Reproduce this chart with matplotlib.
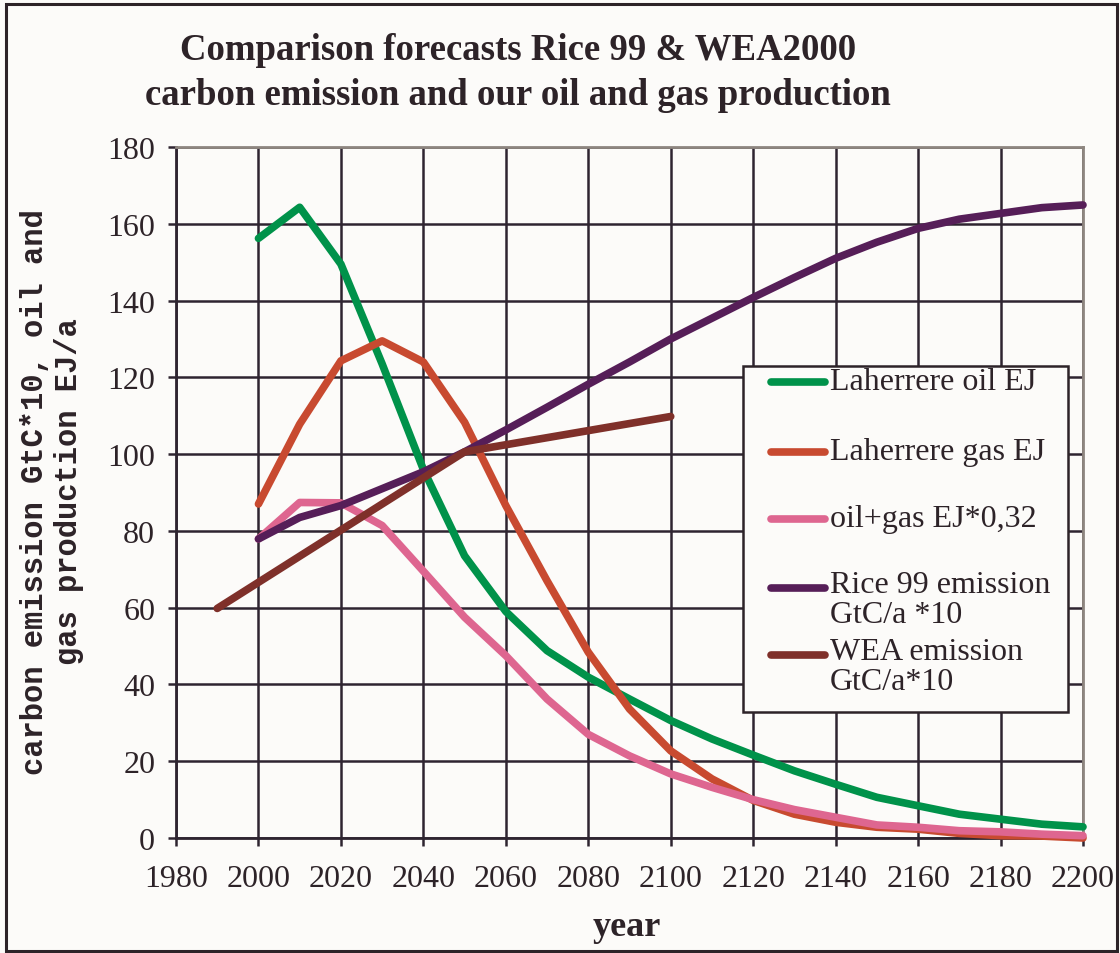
import matplotlib
matplotlib.use("Agg")
import matplotlib.pyplot as plt
from matplotlib.lines import Line2D
from matplotlib.patches import Rectangle

# ---------------- data ----------------
years = list(range(2000, 2201, 10))
oil = [156.2, 164.3, 149.5, 123.5, 96.0, 73.5, 59.0, 48.8, 41.9, 36.2, 30.6,
       25.8, 21.6, 17.5, 14.0, 10.6, 8.4, 6.2, 4.9, 3.6, 2.9]
gas = [87.0, 107.8, 124.3, 129.5, 124.0, 108.3, 86.6, 67.0, 48.4, 33.6, 22.7,
       15.4, 9.8, 6.2, 4.1, 2.8, 2.3, 1.2, 0.6, 0.5, 0.0]
oilgas = [77.9, 87.4, 87.3, 81.4, 69.5, 57.5, 47.5, 36.2, 27.0, 21.4, 16.7,
          13.2, 10.0, 7.4, 5.4, 3.4, 2.8, 1.9, 1.6, 1.0, 0.6]
rice = [77.9, 83.5, 86.6, 91.0, 95.4, 100.6, 106.3, 112.2, 118.2, 124.0, 130.0,
        135.4, 140.8, 146.0, 151.0, 155.2, 158.8, 161.2, 162.7, 164.2, 164.9]
wea_years = [1990, 2050, 2100]
wea = [59.8, 100.6, 109.8]

labels = ["Laherrere oil EJ", "Laherrere gas EJ", "oil+gas EJ*0,32",
          "Rice 99 emission\nGtC/a *10", "WEA emission\nGtC/a*10"]
colors = ["#00924a", "#c84a30", "#de6690", "#561e58", "#7f302a"]

xticks = list(range(1980, 2201, 20))
yticks = list(range(0, 181, 20))

title = "Comparison forecasts Rice 99 & WEA2000\ncarbon emission and our oil and gas production"
ylabel = "carbon emission GtC*10, oil and\ngas production EJ/a"
xlabel = "year"

# ---------------- style ----------------
W, H = 1120, 954
BG = "#fcfbf9"
DARK = "#2d2328"
GRID = "#2e2430"
SPINE_GRAY = "#8e8680"
SERIF = "Liberation Serif"

def fx(px):
    return px / W

def fy(py):
    return 1 - py / H

fig = plt.figure(figsize=(W / 100, H / 100), dpi=100, facecolor=BG)
ax = fig.add_axes([fx(176), fy(839), fx(1083) - fx(176), fy(148) - fy(839)])
ax.set_facecolor(BG)
ax.set_xlim(1980, 2200)
ax.set_ylim(0, 180)
ax.set_xticks(xticks)
ax.set_yticks(yticks)

ax.grid(True, color=GRID, linewidth=1.8, zorder=1)
ax.set_axisbelow(True)
for side in ["left", "bottom"]:
    ax.spines[side].set_color(GRID)
    ax.spines[side].set_linewidth(2.0)
for side in ["top", "right"]:
    ax.spines[side].set_color(SPINE_GRAY)
    ax.spines[side].set_linewidth(2.0)

ax.tick_params(axis="both", direction="out", length=6, width=1.8, color=GRID,
               labelsize=23, labelcolor=DARK)
ax.tick_params(axis="y", pad=9)
ax.tick_params(axis="x", pad=13)
for lab in ax.get_xticklabels() + ax.get_yticklabels():
    lab.set_fontfamily(SERIF)

lw = 5.5
series = [(years, oil), (years, gas), (years, oilgas), (years, rice), (wea_years, wea)]
for (xs, ys), c in zip(series, colors):
    ax.plot(xs, ys, color=c, linewidth=lw, solid_capstyle="round",
            solid_joinstyle="round", clip_on=False, zorder=3)

# title
fig.text(fx(518), fy(73), title, ha="center", va="center", fontsize=26.5,
         fontweight="bold", fontfamily=SERIF, color=DARK, linespacing=1.38)

# y label
fig.text(fx(52), fy(492), ylabel, rotation=90, ha="center", va="center",
         fontsize=22, fontweight="bold", fontfamily="Liberation Mono",
         color=DARK, linespacing=1.2, multialignment="center")

# x label
fig.text(fx(627), fy(928), xlabel, ha="center", va="center", fontsize=26,
         fontweight="bold", fontfamily=SERIF, color=DARK)

# legend (manual so handles align with the first text line)
fig.add_artist(Rectangle((fx(743), fy(713)), fx(1068) - fx(743), fy(367) - fy(713),
                         transform=fig.transFigure, facecolor=BG, edgecolor=DARK,
                         linewidth=1.8, zorder=5))
entry_y = [383, 453, 520, 589, 656]
for lab, c, py in zip(labels, colors, entry_y):
    fig.add_artist(Line2D([fx(771), fx(825)], [fy(py), fy(py)], transform=fig.transFigure,
                          color=c, linewidth=lw, solid_capstyle="round", zorder=6))
    if "\n" in lab:
        fig.text(fx(830), fy(py - 18), lab, ha="left", va="top",
                 fontsize=23, fontfamily=SERIF, color=DARK, linespacing=1.05, zorder=6)
    else:
        fig.text(fx(830), fy(py), lab, ha="left", va="center",
                 fontsize=23, fontfamily=SERIF, color=DARK, zorder=6)

# outer frame
fig.add_artist(Rectangle((fx(6), fy(952)), fx(1117) - fx(6), fy(5) - fy(952),
                         transform=fig.transFigure, facecolor="none", edgecolor=DARK,
                         linewidth=2.2, zorder=10))

fig.savefig("out.png", dpi=100, facecolor=BG)
